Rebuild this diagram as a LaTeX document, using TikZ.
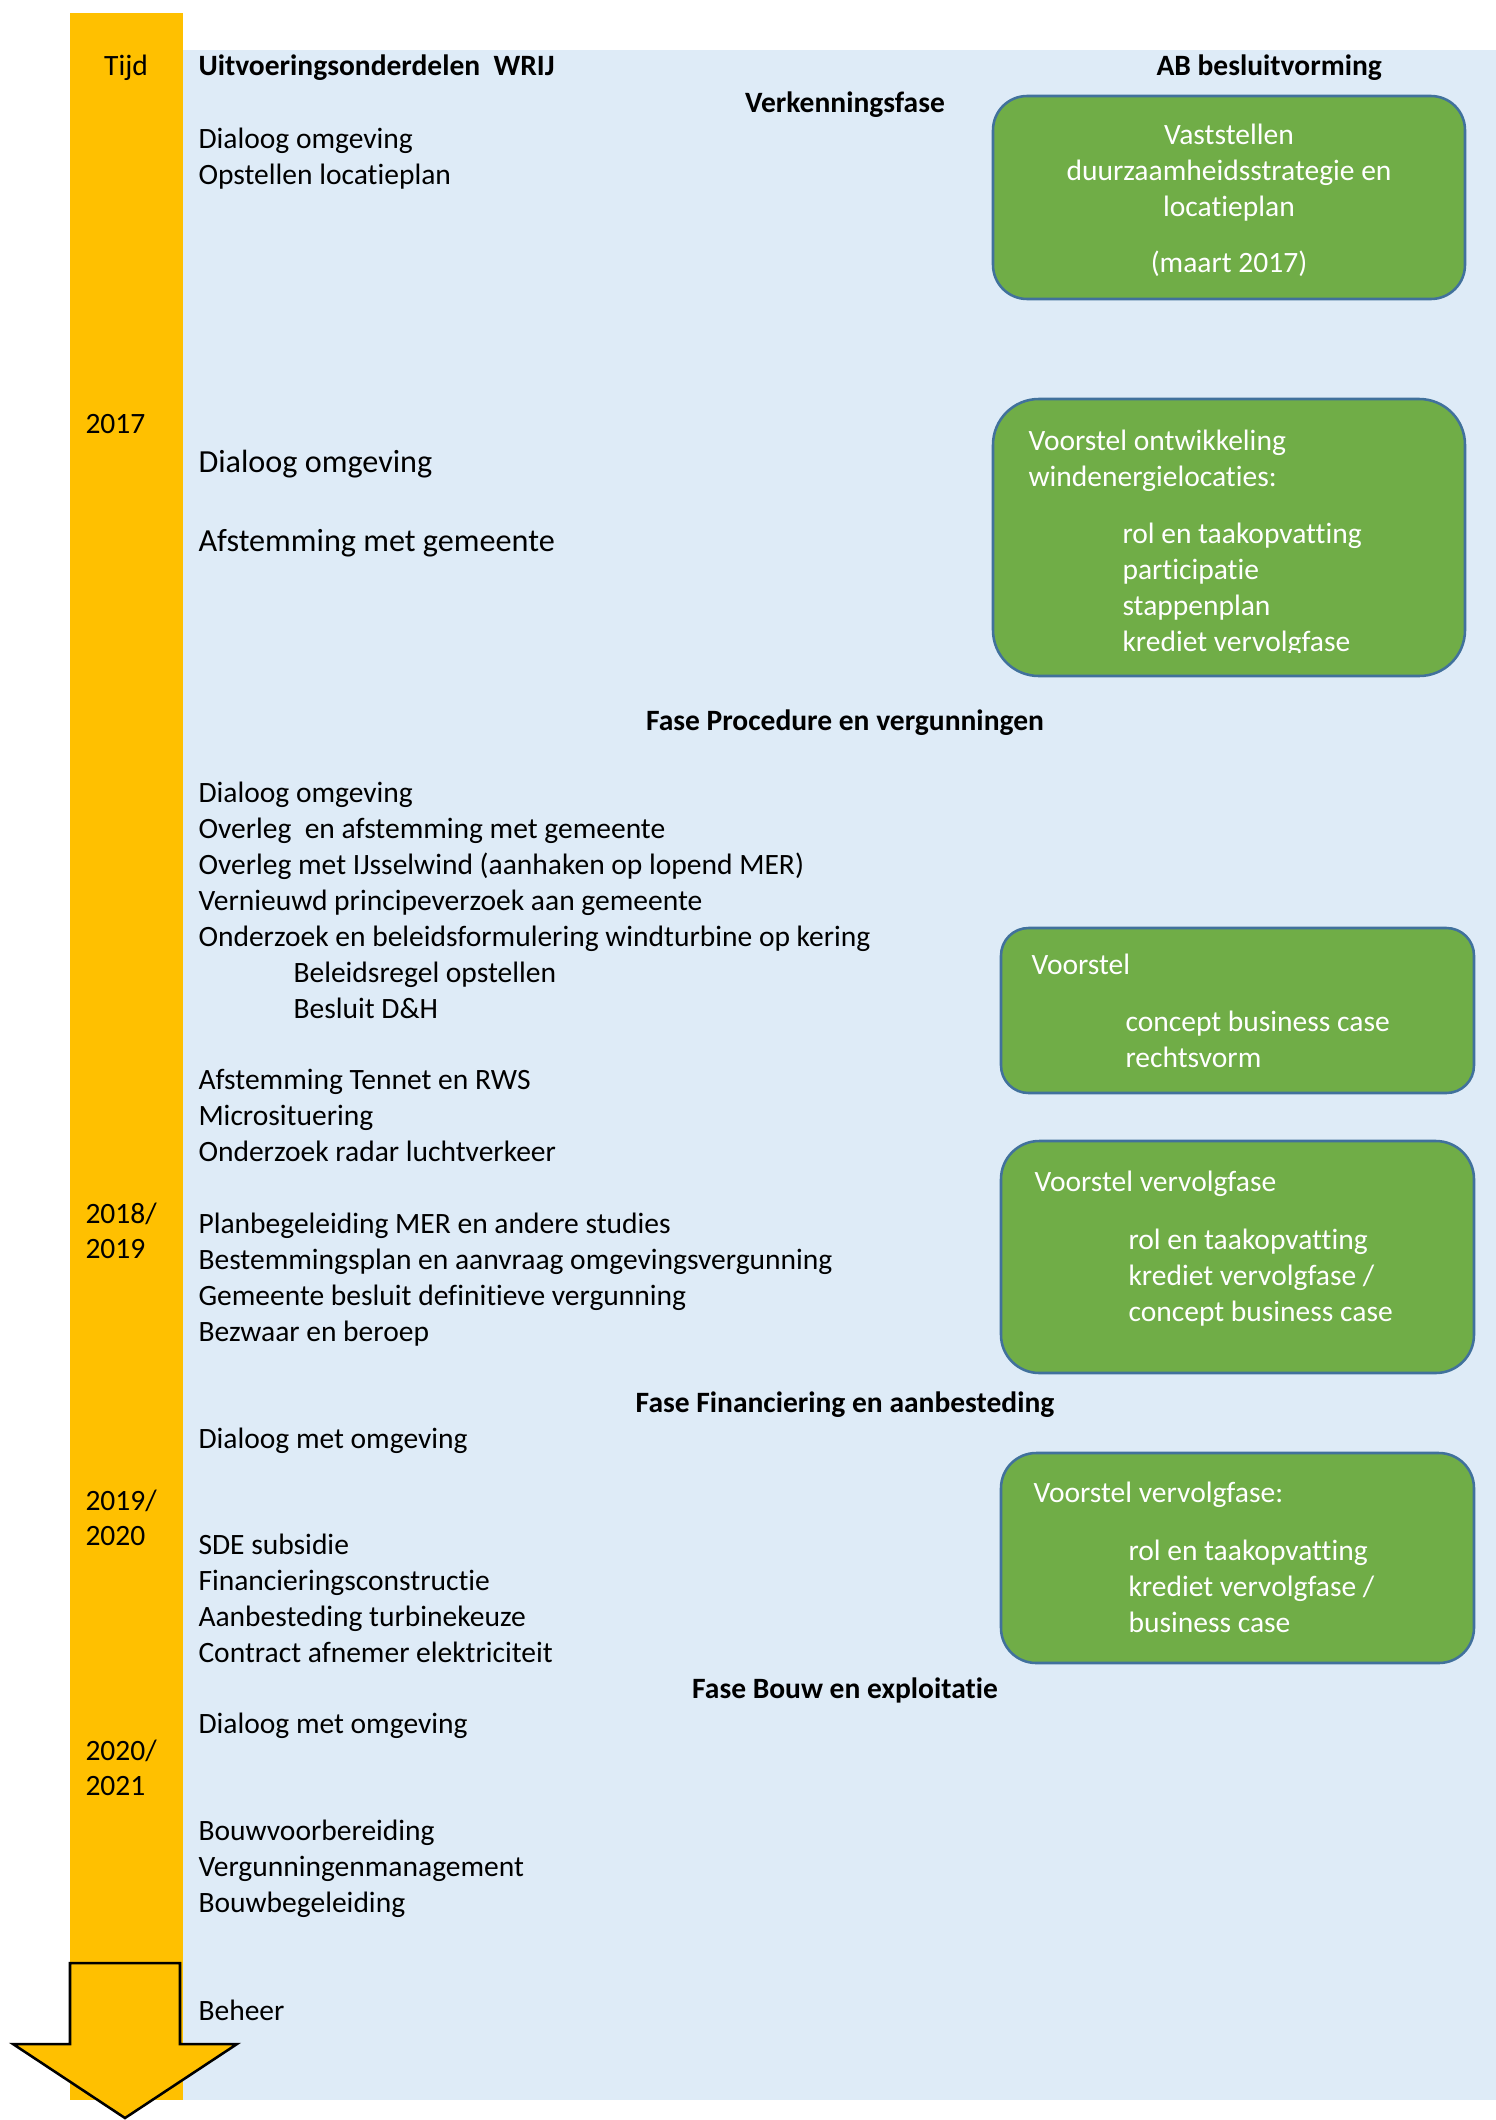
\documentclass[tikz,border=0pt]{standalone}
\usepackage{fontspec}
\setmainfont{Carlito}[Ligatures=NoCommon]
\definecolor{TijdClr}{RGB}{255,192,0}
\definecolor{VlakClr}{RGB}{222,235,247}
\definecolor{BoxClr}{RGB}{112,173,71}
\definecolor{RandClr}{RGB}{65,113,156}

\tikzset{
  regel/.style={anchor=base west,inner sep=0pt,font=\fontsize{11.6}{14}\selectfont},
  groot/.style={regel,font=\fontsize{12.65}{15}\selectfont},
  kop/.style={anchor=base,inner sep=0pt,font=\bfseries\fontsize{11.6}{14}\selectfont},
  wit/.style={regel,text=white},
  besluit/.style={draw=RandClr,fill=BoxClr,line width=1pt},
}

\begin{document}
\begin{tikzpicture}[x=0.393pt,y=-0.393pt]
\useasboundingbox (0,0) rectangle (1496,2120);

% achtergrond en tijdbalk
\fill[VlakClr] (183,50) rectangle (1496,2100);
\fill[TijdClr] (70,13) rectangle (183,2100);
\draw[line width=1pt,fill=TijdClr] (70,1963) -- (180,1963) -- (180,2044) -- (237,2044)
  -- (125,2118) -- (13,2044) -- (70,2044) -- cycle;

% koppen
\node[regel,anchor=base] (Tijd) at (126,75) {Tijd};
\node[kop,anchor=base west] (K1) at (198,75) {Uitvoeringsonderdelen~~WRIJ};
\node[kop,anchor=base west] (K2) at (1156,75) {AB besluitvorming};
\node[kop] (F1) at (845,112) {Verkenningsfase};
\node[kop] (F2) at (845,730) {Fase Procedure en vergunningen};
\node[kop] (F3) at (845,1412) {Fase Financiering en aanbesteding};
\node[kop] (F4) at (845,1698) {Fase Bouw en exploitatie};

% jaren
\node[regel] (J1) at (85,433) {2017};
\node[regel] (J2a) at (85,1223) {2018/};
\node[regel] (J2b) at (85,1258) {2019};
\node[regel] (J3a) at (85,1510) {2019/};
\node[regel] (J3b) at (85,1545) {2020};
\node[regel] (J4a) at (85,1760) {2020/};
\node[regel] (J4b) at (85,1795) {2021};

% uitvoeringsonderdelen
\node[regel] (L1) at (198,148) {Dialoog omgeving};
\node[regel] (L2) at (198,184) {Opstellen locatieplan};
\node[groot] (L3) at (198,472) {Dialoog omgeving};
\node[groot] (L4) at (198,551) {Afstemming met gemeente};
\node[regel] (L5) at (198,802) {Dialoog omgeving};
\node[regel] (L6) at (198,838) {Overleg~~en afstemming met gemeente};
\node[regel] (L7) at (198,874) {Overleg met IJsselwind (aanhaken op lopend MER)};
\node[regel] (L8) at (198,910) {Vernieuwd principeverzoek aan gemeente};
\node[regel] (L9) at (198,946) {Onderzoek en beleidsformulering windturbine op kering};
\node[regel] (L10) at (293,982) {Beleidsregel opstellen};
\node[regel] (L11) at (293,1018) {Besluit D\&H};
\node[regel] (L12) at (198,1089) {Afstemming Tennet en RWS};
\node[regel] (L13) at (198,1125) {Microsituering};
\node[regel] (L14) at (198,1161) {Onderzoek radar luchtverkeer};
\node[regel] (L15) at (198,1233) {Planbegeleiding MER en andere studies};
\node[regel] (L16) at (198,1269) {Bestemmingsplan en aanvraag omgevingsvergunning};
\node[regel] (L17) at (198,1305) {Gemeente besluit definitieve vergunning};
\node[regel] (L18) at (198,1341) {Bezwaar en beroep};
\node[regel] (L19) at (198,1448) {Dialoog met omgeving};
\node[regel] (L20) at (198,1554) {SDE subsidie};
\node[regel] (L21) at (198,1590) {Financieringsconstructie};
\node[regel] (L22) at (198,1626) {Aanbesteding turbinekeuze};
\node[regel] (L23) at (198,1662) {Contract afnemer elektriciteit};
\node[regel] (L24) at (198,1733) {Dialoog met omgeving};
\node[regel] (L25) at (198,1840) {Bouwvoorbereiding};
\node[regel] (L26) at (198,1876) {Vergunningenmanagement};
\node[regel] (L27) at (198,1912) {Bouwbegeleiding};
\node[regel] (L28) at (198,2020) {Beheer};

% besluiten AB
\draw[besluit,rounded corners=13.4pt] (993,96) rectangle (1465,299);
\draw[besluit,rounded corners=18pt] (993,399) rectangle (1465,676);
\draw[besluit,rounded corners=10.8pt] (1001,928) rectangle (1474,1093);
\draw[besluit,rounded corners=15pt] (1001,1141) rectangle (1474,1373);
\draw[besluit,rounded corners=13.8pt] (1001,1453) rectangle (1474,1663);

\node[wit,anchor=base] (B1a) at (1229,144) {Vaststellen};
\node[wit,anchor=base] (B1b) at (1229,180) {duurzaamheidsstrategie en};
\node[wit,anchor=base] (B1c) at (1229,216) {locatieplan};
\node[wit,anchor=base] (B1d) at (1229,272) {(maart 2017)};

\node[wit] (B2a) at (1028,450) {Voorstel ontwikkeling};
\node[wit] (B2b) at (1028,486) {windenergielocaties:};
\node[wit] (B2c) at (1122,543) {rol en taakopvatting};
\node[wit] (B2d) at (1122,579) {participatie};
\node[wit] (B2e) at (1122,615) {stappenplan};
\begin{scope}
\clip (993,600) rectangle (1465,652);
\node[wit] (B2f) at (1122,651) {krediet vervolgfase};
\end{scope}

\node[wit] (B3a) at (1031,974) {Voorstel};
\node[wit] (B3b) at (1125,1031) {concept business case};
\node[wit] (B3c) at (1125,1067) {rechtsvorm};

\node[wit] (B4a) at (1034,1191) {Voorstel vervolgfase};
\node[wit] (B4b) at (1128,1249) {rol en taakopvatting};
\node[wit] (B4c) at (1128,1285) {krediet vervolgfase /};
\node[wit] (B4d) at (1128,1321) {concept business case};

\node[wit] (B5a) at (1033,1502) {Voorstel vervolgfase:};
\node[wit] (B5b) at (1128,1560) {rol en taakopvatting};
\node[wit] (B5c) at (1128,1596) {krediet vervolgfase /};
\node[wit] (B5d) at (1128,1632) {business case};

\end{tikzpicture}
\end{document}
